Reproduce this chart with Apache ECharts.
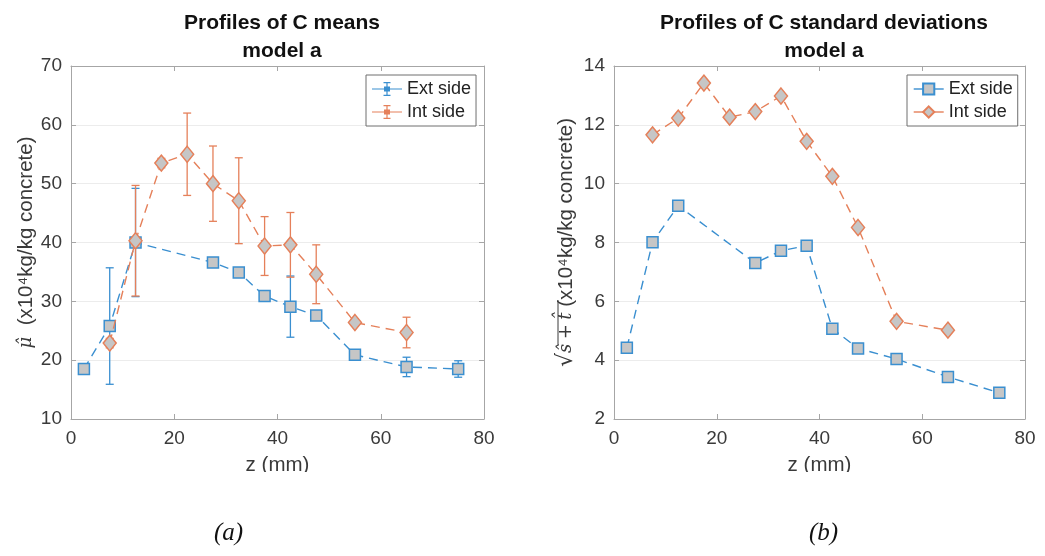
<!DOCTYPE html>
<html>
<head>
<meta charset="utf-8">
<script src="https://cdn.jsdelivr.net/npm/echarts@6/dist/echarts.min.js"></script>
<style>
  html, body { margin: 0; padding: 0; background: #ffffff; }
  #chart { width: 1045px; height: 556px; }
</style>
</head>
<body>
<div id="chart"></div>
<script>
// Depth positions (mm)
const zExt = [2.5, 7.5, 12.5, 27.5, 32.5, 37.5, 42.5, 47.5, 55, 65, 75];
const zInt = [7.5, 12.5, 17.5, 22.5, 27.5, 32.5, 37.5, 42.5, 47.5, 55, 65];

// (a) means of C with error half-widths
const meanExt = [18.5, 25.8, 40.0, 36.6, 34.9, 30.9, 29.1, 27.6, 20.9, 18.85, 18.5];
const errExt  = [0.6, 9.9, 9.2, 0.6, 0.6, 0.6, 5.2, 0.6, 0.6, 1.65, 1.4];
const meanInt = [22.9, 40.3, 53.5, 55.0, 50.0, 47.1, 39.4, 39.6, 34.6, 26.4, 24.7];
const errInt  = [0.8, 9.4, 0.8, 7.0, 6.4, 7.3, 5.0, 5.5, 5.0, 0.6, 2.6];

// (b) standard deviations of C
const sdExt = [4.42, 8.01, 9.25, 7.30, 7.72, 7.89, 5.07, 4.40, 4.04, 3.43, 2.89];
const sdInt = [11.66, 12.23, 13.42, 12.26, 12.45, 12.98, 11.44, 10.25, 8.51, 5.32, 5.02];

const seriesNames = ['Ext side', 'Int side'];
const xTicks = { min: 0, max: 80, interval: 20 };
const yTicksMean = { min: 10, max: 70, interval: 10 };
const yTicksSd = { min: 2, max: 14, interval: 2 };

const BLUE = '#3a8fd0';
const ORANGE = '#e5805a';
const FILL = '#c6c6c6';
const AXIS = '#a6a6a6';
const LABEL = '#3a3a3a';
const FONT = '"Liberation Sans", Arial, sans-serif';

const pairs = (xs, ys) => xs.map((x, i) => [x, ys[i]]);
const bars = (xs, ys, es) => xs.map((x, i) => [x, ys[i] - es[i], ys[i] + es[i]]);

function errorBar(color) {
  return function (params, api) {
    const x = api.value(0);
    const lo = api.coord([x, api.value(1)]);
    const hi = api.coord([x, api.value(2)]);
    const cap = 4;
    const style = { stroke: color, lineWidth: 1.3 };
    return {
      type: 'group',
      children: [
        { type: 'line', shape: { x1: lo[0], y1: lo[1], x2: hi[0], y2: hi[1] }, style },
        { type: 'line', shape: { x1: hi[0] - cap, y1: hi[1], x2: hi[0] + cap, y2: hi[1] }, style },
        { type: 'line', shape: { x1: lo[0] - cap, y1: lo[1], x2: lo[0] + cap, y2: lo[1] }, style }
      ]
    };
  };
}

function xAxisPair(gridIndex) {
  const common = {
    type: 'value', gridIndex, ...xTicks,
    axisLine: { show: true, onZero: false, lineStyle: { color: AXIS, width: 1 } },
    axisTick: { show: true, inside: true, length: 5, lineStyle: { color: AXIS } },
    splitLine: { show: false }
  };
  return [
    Object.assign({}, common, {
      position: 'bottom',
      axisLabel: { color: LABEL, fontSize: 19, fontFamily: FONT, margin: 10 },
      name: 'z (mm)', nameLocation: 'middle', nameGap: 36,
      nameTextStyle: { color: LABEL, fontSize: 20.5, fontFamily: FONT }
    }),
    Object.assign({}, common, { position: 'top', axisLabel: { show: false } })
  ];
}

function yAxisPair(gridIndex, ticks, name, nameGap, rich) {
  const common = {
    type: 'value', gridIndex, ...ticks,
    axisLine: { show: true, onZero: false, lineStyle: { color: AXIS, width: 1 } },
    axisTick: { show: true, inside: true, length: 5, lineStyle: { color: AXIS } }
  };
  return [
    Object.assign({}, common, {
      position: 'left',
      axisLabel: { color: LABEL, fontSize: 19, fontFamily: FONT, margin: 9 },
      splitLine: { show: true, lineStyle: { color: '#ececec', width: 1 } },
      name, nameLocation: 'middle', nameGap,
      nameTextStyle: { color: LABEL, fontSize: 20.5, fontFamily: FONT, rich }
    }),
    Object.assign({}, common, { position: 'right', axisLabel: { show: false }, splitLine: { show: false } })
  ];
}

const mathRich = {
  m: { fontStyle: 'italic', fontFamily: '"DejaVu Serif", serif', fontSize: 18, color: LABEL },
  r: { fontFamily: '"DejaVu Sans", sans-serif', fontSize: 22, color: LABEL },
  t: { color: LABEL, fontSize: 20.5, fontFamily: FONT }
};

// legend icon with an error bar and a small square marker (30 x 14 box)
const errIcon = 'path://M0 6.4H30V7.6H0Z M14.4 0.8H15.6V13.2H14.4Z M11.5 0H18.5V1.2H11.5Z M11.5 12.8H18.5V14H11.5Z ' +
                'M12 4.5H18V9.5H12Z';

function lineSeries(name, xs, ys, color, symbol, size, xi, yi, z) {
  return {
    type: 'line', name, xAxisIndex: xi, yAxisIndex: yi, z,
    data: pairs(xs, ys),
    symbol, symbolSize: size, showSymbol: true,
    lineStyle: { color, width: 1.4, type: [9, 6] },
    itemStyle: { color: FILL, borderColor: color, borderWidth: 1.5 },
    emphasis: { disabled: true },
    animation: false
  };
}

const legendText = { fontSize: 18, fontFamily: FONT, color: '#222' };
const titleText = { fontSize: 21, fontWeight: 'bold', fontFamily: FONT, color: '#111', lineHeight: 28 };

const option = {
  backgroundColor: '#ffffff',
  animation: false,
  title: [
    { text: 'Profiles of C means\nmodel a', left: 277, top: 4, textAlign: 'center', textStyle: titleText },
    { text: 'Profiles of C standard deviations\nmodel a', left: 819, top: 4, textAlign: 'center', textStyle: titleText }
  ],
  grid: [
    { left: 71, top: 66, width: 413, height: 353, show: false },
    { left: 614, top: 66, width: 411, height: 353, show: false }
  ],
  legend: [
    {
      left: 366, top: 75, orient: 'vertical', itemGap: 5, itemWidth: 30, itemHeight: 14,
      padding: [5, 5, 5, 6], borderColor: '#6e6e6e', borderWidth: 1, backgroundColor: '#ffffff',
      textStyle: legendText, selectedMode: false,
      data: [
        { name: seriesNames[0], icon: errIcon, itemStyle: { color: BLUE, borderWidth: 0 } },
        { name: seriesNames[1], icon: errIcon, itemStyle: { color: ORANGE, borderWidth: 0 } }
      ]
    },
    {
      left: 907, top: 75, orient: 'vertical', itemGap: 5, itemWidth: 30, itemHeight: 14,
      padding: [5, 5, 5, 6], borderColor: '#6e6e6e', borderWidth: 1, backgroundColor: '#ffffff',
      textStyle: legendText, selectedMode: false,
      lineStyle: { type: 'solid', width: 1.4 },
      data: seriesNames
    }
  ],
  xAxis: [...xAxisPair(0), ...xAxisPair(1)],
  yAxis: [
    ...yAxisPair(0, yTicksMean, '{m|μ̂}{t|  (x10⁴kg/kg concrete)}', 29, mathRich),
    ...yAxisPair(1, yTicksSd, '{r|√}{m|ŝ\u2005+\u2005t̂}{t| (x10⁴kg/kg concrete)}', 37, mathRich)
  ],
  series: [
    { type: 'custom', name: 'Ext side error', xAxisIndex: 0, yAxisIndex: 0, z: 2,
      data: bars(zExt, meanExt, errExt), encode: { x: 0, y: [1, 2] }, renderItem: errorBar(BLUE), silent: true },
    lineSeries(seriesNames[0], zExt, meanExt, BLUE, 'rect', 11, 0, 0, 3),
    { type: 'custom', name: 'Int side error', xAxisIndex: 0, yAxisIndex: 0, z: 4,
      data: bars(zInt, meanInt, errInt), encode: { x: 0, y: [1, 2] }, renderItem: errorBar(ORANGE), silent: true },
    lineSeries(seriesNames[1], zInt, meanInt, ORANGE, 'diamond', [13, 16], 0, 0, 5),
    lineSeries(seriesNames[0], zExt, sdExt, BLUE, 'rect', 11, 2, 2, 3),
    lineSeries(seriesNames[1], zInt, sdInt, ORANGE, 'diamond', [13, 16], 2, 2, 5)
  ],
  graphic: [
    // vinculum of the square root in the right-hand axis title
    { type: 'line', z: 50, shape: { x1: 558, y1: 345, x2: 558, y2: 300 }, style: { stroke: LABEL, lineWidth: 1 } },
    // band that trims the lower part of the axis titles
    { type: 'rect', left: 0, top: 472, shape: { width: 1045, height: 40 }, style: { fill: '#ffffff' }, z: 100 },
    { type: 'text', left: 214, top: 521, z: 101,
      style: { text: '(a)', font: 'italic 25px "Liberation Serif", serif', fill: '#111' } },
    { type: 'text', left: 809, top: 521, z: 101,
      style: { text: '(b)', font: 'italic 25px "Liberation Serif", serif', fill: '#111' } }
  ]
};

const chart = echarts.init(document.getElementById('chart'), null, { renderer: 'canvas' });
chart.setOption(option);
</script>
</body>
</html>
